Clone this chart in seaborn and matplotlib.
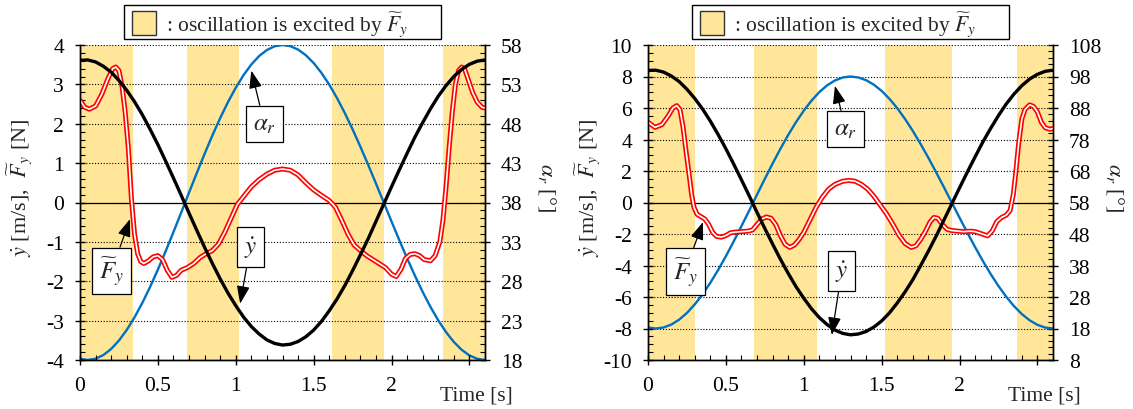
import matplotlib
matplotlib.use("Agg")
import matplotlib.pyplot as plt
from matplotlib.ticker import AutoMinorLocator, FixedLocator
from matplotlib.patches import Rectangle
import seaborn as sns

# ---------------------------------------------------------------- data
# common time base of the smooth curves [s]
t_grid = [0.00, 0.05, 0.10, 0.15, 0.20, 0.25, 0.30, 0.35, 0.40, 0.45, 0.50,
          0.55, 0.60, 0.65, 0.70, 0.75, 0.80, 0.85, 0.90, 0.95, 1.00, 1.05,
          1.10, 1.15, 1.20, 1.25, 1.30, 1.35, 1.40, 1.45, 1.50, 1.55, 1.60,
          1.65, 1.70, 1.75, 1.80, 1.85, 1.90, 1.95, 2.00, 2.05, 2.10, 2.15,
          2.20, 2.25, 2.30, 2.35, 2.40, 2.45, 2.50, 2.55, 2.60]

# left panel: lateral velocity [m/s] and rudder angle [deg]
ydot_a = [3.61, 3.62, 3.57, 3.46, 3.31, 3.10, 2.85, 2.56, 2.23, 1.86, 1.47,
          1.05, 0.62, 0.18, -0.27, -0.71, -1.14, -1.55, -1.94, -2.30, -2.62,
          -2.91, -3.15, -3.34, -3.49, -3.58, -3.62, -3.60, -3.53, -3.41, -3.24,
          -3.02, -2.75, -2.45, -2.11, -1.73, -1.33, -0.92, -0.48, -0.04, 0.40,
          0.83, 1.25, 1.66, 2.03, 2.38, 2.70, 2.97, 3.20, 3.38, 3.51, 3.59, 3.62]
alpha_a = [18.16, 18.00, 18.16, 18.63, 19.40, 20.47, 21.82, 23.42, 25.25, 27.28,
           29.48, 31.82, 34.25, 36.74, 39.26, 41.75, 44.18, 46.52, 48.72, 50.75,
           52.58, 54.18, 55.53, 56.60, 57.37, 57.84, 58.00, 57.85, 57.42, 56.70,
           55.71, 54.46, 52.97, 51.26, 49.36, 47.29, 45.09, 42.79, 40.41, 38.00,
           35.59, 33.21, 30.91, 28.71, 26.64, 24.74, 23.03, 21.54, 20.29, 19.30,
           18.58, 18.15, 18.00]
# left panel: filtered lateral force [N]
t_fy_a = [0.00, 0.03, 0.06, 0.10, 0.14, 0.18, 0.21, 0.23, 0.25, 0.27, 0.29, 0.31,
          0.33, 0.35, 0.37, 0.39, 0.41, 0.44, 0.47, 0.50, 0.53, 0.56, 0.59, 0.62,
          0.65, 0.69, 0.73, 0.77, 0.81, 0.85, 0.89, 0.93, 0.97, 1.01, 1.05, 1.10,
          1.15, 1.20, 1.25, 1.30, 1.35, 1.40, 1.45, 1.50, 1.55, 1.60, 1.64, 1.68,
          1.72, 1.76, 1.80, 1.84, 1.88, 1.92, 1.96, 2.00, 2.03, 2.06, 2.09, 2.12,
          2.15, 2.18, 2.21, 2.25, 2.28, 2.31, 2.33, 2.35, 2.37, 2.39, 2.41, 2.43,
          2.45, 2.47, 2.49, 2.52, 2.55, 2.58, 2.60]
fy_a = [2.60, 2.42, 2.37, 2.45, 2.75, 3.15, 3.40, 3.44, 3.35, 2.95, 2.30, 1.40,
        0.10, -0.80, -1.30, -1.50, -1.55, -1.48, -1.38, -1.35, -1.45, -1.72, -1.90,
        -1.85, -1.72, -1.65, -1.55, -1.40, -1.30, -1.22, -1.05, -0.75, -0.40, -0.05,
        0.15, 0.40, 0.58, 0.72, 0.82, 0.85, 0.82, 0.70, 0.50, 0.32, 0.18, 0.05,
        -0.12, -0.45, -0.80, -1.08, -1.22, -1.35, -1.45, -1.55, -1.65, -1.82, -1.88,
        -1.70, -1.42, -1.32, -1.30, -1.35, -1.45, -1.48, -1.35, -1.00, -0.45, 0.40,
        1.40, 2.30, 3.00, 3.35, 3.44, 3.38, 3.15, 2.80, 2.55, 2.42, 2.40]
bands_a = [(0.0, 0.34), (0.686, 1.022), (1.617, 1.949), (2.331, 2.6)]

# right panel: lateral velocity [m/s] and rudder angle [deg]
ydot_b = [8.38, 8.40, 8.28, 8.03, 7.68, 7.19, 6.61, 5.94, 5.17, 4.32, 3.41,
          2.44, 1.44, 0.42, -0.63, -1.65, -2.64, -3.60, -4.50, -5.34, -6.08,
          -6.75, -7.31, -7.75, -8.10, -8.31, -8.40, -8.35, -8.19, -7.91, -7.52,
          -7.01, -6.38, -5.68, -4.90, -4.01, -3.09, -2.13, -1.11, -0.09, 0.93,
          1.93, 2.90, 3.85, 4.71, 5.52, 6.26, 6.89, 7.42, 7.84, 8.14, 8.33, 8.40]
alpha_b = [18.32, 18.00, 18.32, 19.26, 20.80, 22.94, 25.64, 28.84, 32.50, 36.56,
           40.96, 45.64, 50.50, 55.48, 60.52, 65.50, 70.36, 75.04, 79.44, 83.50,
           87.16, 90.36, 93.06, 95.20, 96.74, 97.68, 98.00, 97.70, 96.84, 95.40,
           93.42, 90.92, 87.94, 84.52, 80.72, 76.58, 72.18, 67.58, 62.82, 58.00,
           53.18, 48.42, 43.82, 39.42, 35.28, 31.48, 28.06, 25.08, 22.58, 20.60,
           19.16, 18.30, 18.00]
# right panel: filtered lateral force [N]
t_fy_b = [0.00, 0.045, 0.09, 0.13, 0.16, 0.185, 0.205, 0.225, 0.245, 0.265, 0.28,
          0.295, 0.315, 0.34, 0.365, 0.39, 0.415, 0.44, 0.47, 0.50, 0.53, 0.56,
          0.60, 0.64, 0.67, 0.70, 0.73, 0.76, 0.79, 0.82, 0.85, 0.88, 0.91, 0.94,
          0.97, 1.00, 1.04, 1.08, 1.12, 1.16, 1.20, 1.25, 1.29, 1.33, 1.37, 1.41,
          1.45, 1.49, 1.53, 1.57, 1.61, 1.65, 1.69, 1.72, 1.75, 1.78, 1.81, 1.835,
          1.86, 1.89, 1.92, 1.95, 1.99, 2.03, 2.07, 2.10, 2.14, 2.18, 2.21, 2.24,
          2.27, 2.30, 2.325, 2.345, 2.36, 2.38, 2.40, 2.42, 2.45, 2.475, 2.50,
          2.525, 2.55, 2.58, 2.60]
fy_b = [5.10, 4.77, 4.95, 5.50, 6.00, 6.15, 5.90, 4.80, 3.20, 1.70, 0.50, -0.30,
        -0.75, -0.90, -1.05, -1.40, -1.90, -2.15, -2.20, -2.10, -1.92, -1.88, -1.85,
        -1.82, -1.75, -1.40, -1.05, -0.92, -1.00, -1.40, -2.10, -2.65, -2.85, -2.70,
        -2.35, -1.90, -1.10, -0.30, 0.35, 0.85, 1.15, 1.35, 1.40, 1.35, 1.15, 0.85,
        0.40, -0.15, -0.70, -1.35, -2.05, -2.60, -2.85, -2.75, -2.35, -1.85, -1.25,
        -0.95, -1.00, -1.40, -1.70, -1.78, -1.82, -1.85, -1.82, -1.85, -1.98, -2.12,
        -1.80, -1.20, -0.95, -0.80, -0.50, 0.50, 1.80, 3.80, 5.30, 5.90, 6.20, 6.10,
        5.75, 5.10, 4.75, 4.65, 4.70]
bands_b = [(0.0, 0.30), (0.68, 1.085), (1.52, 1.95), (2.37, 2.6)]

# axis ticks
x_ticks = [0, 0.5, 1, 1.5, 2, 2.5]
x_ticklabels = ["0", "0.5", "1", "1.5", "2", ""]
left_ticks_a = [-4, -3, -2, -1, 0, 1, 2, 3, 4]
right_ticks_a = [18, 23, 28, 33, 38, 43, 48, 53, 58]
left_ticks_b = [-10, -8, -6, -4, -2, 0, 2, 4, 6, 8, 10]
right_ticks_b = [8, 18, 28, 38, 48, 58, 68, 78, 88, 98, 108]

# ---------------------------------------------------------------- style
sns.set_theme(style="ticks")
plt.rcParams["font.family"] = ["Liberation Serif", "DejaVu Serif"]
plt.rcParams["mathtext.fontset"] = "stix"
plt.rcParams["axes.unicode_minus"] = False

BAND = "#FFE699"
BLUE = "#0070C0"
W_PX, H_PX = 1133, 410
TICK_FS = 15.5

fig = plt.figure(figsize=(W_PX / 100, H_PX / 100), dpi=100)


def fx(px):
    return px / W_PX


def fy(py):
    return 1 - py / H_PX


def draw_panel(left_px, t_fy, fy_vals, ydot, alpha, bands, lticks, rticks, notes):
    ax = fig.add_axes([fx(left_px), fy(361), 405 / W_PX, 315 / H_PX])
    ax2 = ax.twinx()
    ax.set_zorder(ax2.get_zorder() + 1)
    ax.patch.set_visible(False)

    # excitation intervals and dotted grid in the back layer
    for a, b in bands:
        ax2.axvspan(a, b, color=BAND, lw=0, zorder=0)
    ax2.set_ylim(rticks[0], rticks[-1])
    ax2.yaxis.set_major_locator(FixedLocator(rticks))
    ax2.yaxis.set_minor_locator(AutoMinorLocator(5))
    ax2.set_yticklabels([str(v) for v in rticks])
    ax2.grid(axis="y", which="major", color="black", ls=(0, (1, 1.6)), lw=0.8)
    ax2.grid(axis="x", visible=False)
    sns.lineplot(x=t_grid, y=alpha, ax=ax2, color=BLUE, lw=1.7, sort=False,
                 legend=False)

    ax.set_xlim(0, 2.6)
    ax.set_ylim(lticks[0], lticks[-1])
    ax.axhline(0, color="black", lw=0.9, zorder=1)
    sns.lineplot(x=t_fy, y=fy_vals, ax=ax, color="red", lw=3.6, sort=False,
                 legend=False)
    sns.lineplot(x=t_fy, y=fy_vals, ax=ax, color="white", lw=1.2, sort=False,
                 legend=False)
    sns.lineplot(x=t_grid, y=ydot, ax=ax, color="black", lw=2.4, sort=False,
                 legend=False)

    ax.xaxis.set_major_locator(FixedLocator(x_ticks))
    ax.set_xticklabels(x_ticklabels)
    ax.xaxis.set_minor_locator(AutoMinorLocator(5))
    ax.yaxis.set_major_locator(FixedLocator(lticks))
    ax.set_yticklabels([str(v) for v in lticks])
    ax.yaxis.set_minor_locator(AutoMinorLocator())

    for a in (ax, ax2):
        a.spines["top"].set_visible(False)
        for s in ("left", "right", "bottom"):
            a.spines[s].set_linewidth(1.0)
            a.spines[s].set_color("black")
    ax.tick_params(axis="both", which="major", direction="inout", length=7,
                   width=1.0, color="black", labelsize=TICK_FS, labelcolor="black")
    ax.tick_params(axis="both", which="minor", direction="in", length=3.5,
                   width=0.8, color="black")
    ax.tick_params(axis="y", which="major", pad=8)
    ax.tick_params(axis="x", which="major", pad=8)
    ax2.tick_params(axis="y", which="major", direction="inout", length=7,
                    width=1.0, color="black", labelsize=TICK_FS, labelcolor="black",
                    pad=8)
    ax2.tick_params(axis="y", which="minor", direction="in", length=3.5,
                    width=0.8, color="black")
    ax.set_xlabel("")
    ax.set_ylabel(r"$\dot{y}$ [m/s],  $\widetilde{F}_y$ [N]", fontsize=16)
    ax.yaxis.set_label_coords(-0.11, 0.55)
    ax2.set_ylabel(r"$\alpha_r$ [°]", fontsize=16, rotation=270, va="bottom")
    ax2.yaxis.set_label_coords(1.125, 0.55)
    ax.text(0.978, -0.11, "Time [s]", transform=ax.transAxes, ha="center",
            va="center", fontsize=TICK_FS)

    # labelled arrows pointing at each curve
    for label, tip, box in notes:
        ax.annotate(label, xy=tip, xytext=box, ha="center", va="center",
                    fontsize=18, zorder=10,
                    bbox=dict(boxstyle="square,pad=0.28", fc="white",
                              ec="black", lw=0.9),
                    arrowprops=dict(arrowstyle="-|>,head_length=0.6,head_width=0.22",
                                    color="black", lw=0.9, shrinkA=0, shrinkB=0))

    # legend box above the panel
    cx = left_px + 202.5
    bw, bh = 317, 34
    x0 = cx - bw / 2
    fig.patches.append(Rectangle((fx(x0), fy(6 + bh)), bw / W_PX, bh / H_PX,
                                 transform=fig.transFigure, fc="white",
                                 ec="black", lw=1.0))
    fig.patches.append(Rectangle((fx(x0 + 8), fy(36)), 24 / W_PX, 24 / H_PX,
                                 transform=fig.transFigure, fc=BAND,
                                 ec="#333333", lw=1.0))
    fig.text(fx(x0 + 42), fy(31), r": oscillation is excited by $\widetilde{F}_y$",
             ha="left", va="baseline", fontsize=TICK_FS)


draw_panel(80, t_fy_a, fy_a, ydot_a, alpha_a, bands_a, left_ticks_a, right_ticks_a,
           [(r"$\alpha_r$", (1.10, 3.35), (1.183, 2.0)),
            (r"$\dot{y}$", (1.028, -2.57), (1.093, -1.13)),
            (r"$\widetilde{F}_y$", (0.321, -0.42), (0.2025, -1.74))])
draw_panel(648, t_fy_b, fy_b, ydot_b, alpha_b, bands_b, left_ticks_b, right_ticks_b,
           [(r"$\alpha_r$", (1.20, 7.4), (1.269, 4.67)),
            (r"$\dot{y}$", (1.18, -8.41), (1.244, -4.35)),
            (r"$\widetilde{F}_y$", (0.353, -1.24), (0.238, -4.38))])

fig.savefig("out.png", dpi=100)
